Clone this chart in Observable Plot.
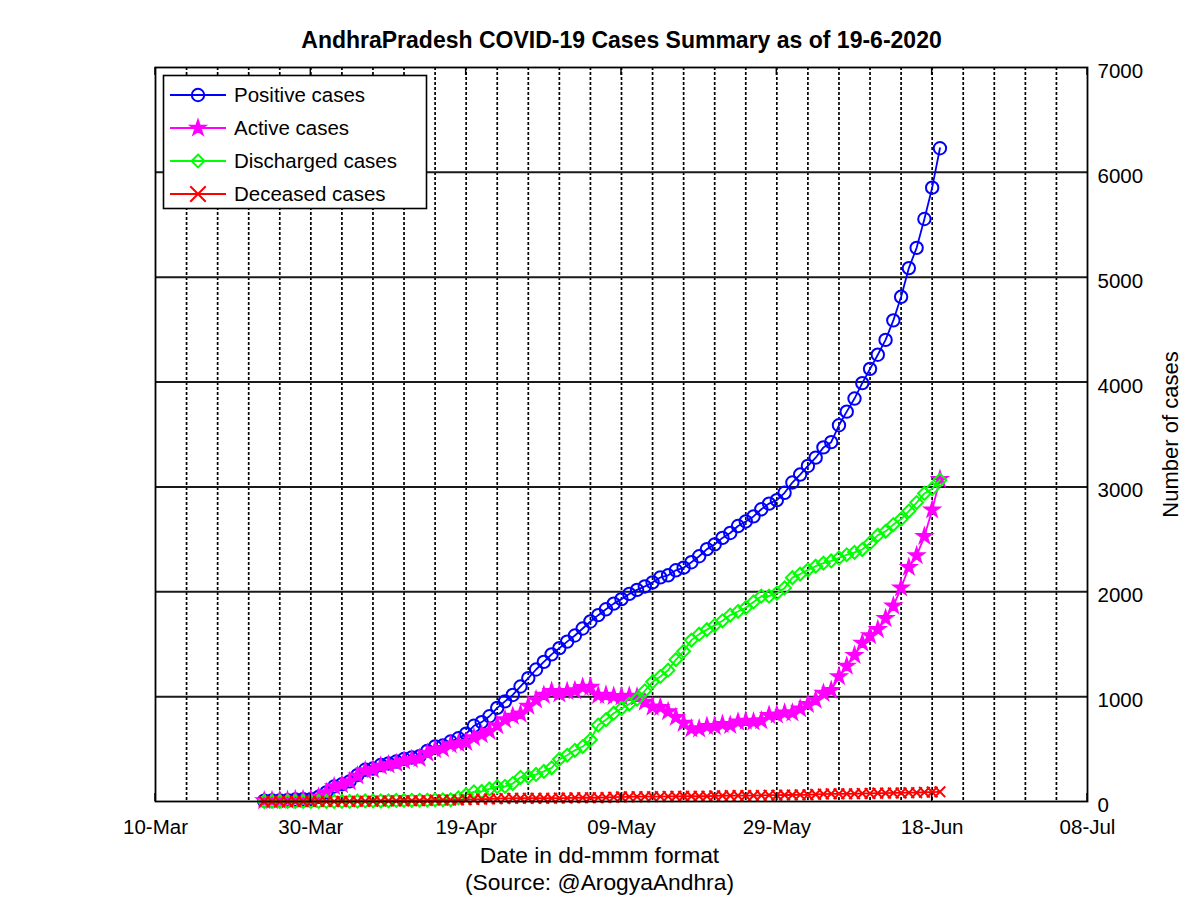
<!DOCTYPE html>
<html><head><meta charset="utf-8">
<script src="https://cdn.jsdelivr.net/npm/d3@7"></script>
<script src="https://cdn.jsdelivr.net/npm/@observablehq/plot@0.6"></script>
<style>html,body{margin:0;padding:0;background:#fff}svg{display:block}</style>
</head><body><div id="chart"></div>
<script>
// ---- data (daily, 24-Mar-2020 .. 19-Jun-2020) ----
const firstDate = "2020-03-24";
const lastDateExclusive = "2020-06-20";
const positive = [8,10,11,13,19,21,23,44,
  87,143,164,192,252,303,314,348,363,381,405,420,432,483,525,534,572,603,647,722,757,813,893,955,1016,1097,1177,1259,1332,1403,
  1463,1525,1583,1650,1717,1777,1833,1887,1930,1980,2018,2051,2090,2137,2157,2205,2230,2282,2339,2407,2452,2514,2561,2627,2671,2719,2787,2841,2874,2944,3042,
  3118,3200,3279,3377,3427,3588,3718,3843,3990,4126,4261,4402,4588,4813,5087,5280,5555,5854,6230];
const active = [8,10,11,12,18,20,22,43,
  86,142,162,190,246,295,305,338,351,365,389,402,413,462,495,504,542,553,565,610,639,669,725,781,814,835,911,970,1014,1051,
  1027,1051,1059,1090,1092,1012,1015,1004,999,1006,997,949,902,898,857,803,747,693,693,718,718,736,727,759,767,760,771,823,827,845,845,
  885,927,967,1033,1060,1192,1292,1394,1510,1583,1641,1746,1865,2038,2233,2345,2529,2781,3073];
const discharged = [0,0,0,1,1,1,1,1,
  1,1,1,1,3,5,6,6,6,10,10,11,12,12,16,16,16,35,65,92,96,120,141,145,171,231,235,258,287,321,
  403,441,488,524,589,729,780,842,887,929,975,1056,1142,1192,1252,1353,1433,1539,1596,1639,1680,1723,1778,1812,1848,1903,1958,1958,1987,2037,2135,
  2169,2209,2244,2273,2294,2323,2353,2376,2403,2466,2540,2576,2641,2693,2770,2851,2938,2983,3065];
const deceased = [0,0,0,0,0,0,0,0,
  0,0,1,1,3,3,3,4,6,6,6,7,7,9,14,14,14,15,17,20,22,24,27,29,31,31,31,31,31,31,
  33,33,36,36,36,36,38,41,44,45,46,46,46,47,48,49,50,50,50,50,54,55,56,56,56,56,58,60,60,62,62,
  64,64,68,71,73,73,73,73,77,77,80,80,82,82,84,84,88,90,92];

const seriesNames = ["Positive cases","Active cases","Discharged cases","Deceased cases"];
const seriesColors = ["#0000ff","#ff00ff","#00ff00","#ff0000"];
const xTickDates = ["2020-03-10","2020-03-30","2020-04-19","2020-05-09","2020-05-29","2020-06-18","2020-07-08"];
const yTicks = [0,1000,2000,3000,4000,5000,6000,7000];
const titleText = "AndhraPradesh COVID-19 Cases Summary as of 19-6-2020";
const xLabel = "Date in dd-mmm format";
const sourceText = "(Source: @ArogyaAndhra)";
const yLabel = "Number of cases";

// ---- build tables ----
const dates = d3.utcDay.range(new Date(firstDate), new Date(lastDateExclusive));
const seriesValues = [positive, active, discharged, deceased];
const tables = seriesValues.map(vals => vals.map((v, i) => ({date: dates[i], value: v})));
const xDomain = [new Date(xTickDates[0]), new Date(xTickDates[xTickDates.length - 1])];
const xTicks = xTickDates.map(d => new Date(d));
const gridDates = d3.utcDay.range(xDomain[0], xDomain[1], 4).slice(1);
const yGrid = yTicks.slice(1, -1);

const symbols = ["circle", "star", "diamond2", "times"];
const radii = [6.2, 4.5, 5.8, 4.9];
const fills = ["none", seriesColors[1], "none", "none"];
const FONT = "'Liberation Sans', Arial, Helvetica, sans-serif";

const dataMarks = [];
tables.forEach((t, k) => {
  dataMarks.push(Plot.line(t, {x: "date", y: "value", stroke: seriesColors[k], strokeWidth: 1.8}));
  dataMarks.push(Plot.dot(t, {x: "date", y: "value", symbol: symbols[k], r: radii[k],
    stroke: seriesColors[k], fill: fills[k], strokeWidth: 2}));
});

const chart = Plot.plot({
  width: 1200, height: 898,
  marginLeft: 155, marginRight: 113, marginTop: 67, marginBottom: 97,
  style: {fontFamily: FONT, fontSize: "20.5px", background: "#fff", color: "#000"},
  x: {type: "utc", domain: xDomain},
  y: {domain: [0, 7000]},
  marks: [
    Plot.ruleX(gridDates, {stroke: "#000", strokeWidth: 1.7, strokeDasharray: "3,2"}),
    Plot.ruleY(yGrid, {stroke: "#1a1a1a", strokeWidth: 2}),
    Plot.axisX({ticks: xTicks, tickFormat: d3.utcFormat("%d-%b"), tickSize: 0, tickPadding: 18, label: null, fontSize: 20.5}),
    Plot.axisY({anchor: "right", ticks: yTicks, tickSize: 0, tickPadding: 10, dy: 4, label: null, tickFormat: d => String(d), fontSize: 20.5}),
    ...dataMarks,
    Plot.frame({stroke: "#000", strokeWidth: 1.8}),
    Plot.text([titleText], {text: d => d, frameAnchor: "top", lineAnchor: "middle", dy: -27, fontSize: 23, fontWeight: "bold"}),
    Plot.text([xLabel], {text: d => d, frameAnchor: "bottom", textAnchor: "middle", lineAnchor: "middle", dx: -22, dy: 54, fontSize: 22.8}),
    Plot.text([sourceText], {text: d => d, frameAnchor: "bottom", textAnchor: "middle", lineAnchor: "middle", dx: -22, dy: 81, fontSize: 22.8}),
    Plot.text([yLabel], {text: d => d, frameAnchor: "right", textAnchor: "middle", lineAnchor: "middle", dx: 83, rotate: -90, fontSize: 22})
  ]
});
document.getElementById("chart").appendChild(chart);

// ---- inward major ticks and legend ----
const svg = d3.select(chart);
const sx = chart.scale("x");
const tg = svg.append("g").attr("stroke", "#000").attr("stroke-width", 1.5);
xTicks.forEach(d => {
  const px = sx.apply(d);
  tg.append("line").attr("x1", px).attr("x2", px).attr("y1", 801).attr("y2", 793);
  tg.append("line").attr("x1", px).attr("x2", px).attr("y1", 67).attr("y2", 75);
});

const lg = svg.append("g");
lg.append("rect").attr("x", 163.5).attr("y", 75.5).attr("width", 263).attr("height", 133)
  .attr("fill", "#fff").attr("stroke", "#000").attr("stroke-width", 1.6);
const d3sym = {circle: d3.symbolCircle, star: d3.symbolStar, diamond2: d3.symbolDiamond2, times: d3.symbolTimes};
seriesNames.forEach((name, k) => {
  const cy = 95 + k * 33;
  lg.append("line").attr("x1", 170).attr("x2", 226).attr("y1", cy).attr("y2", cy)
    .attr("stroke", seriesColors[k]).attr("stroke-width", 1.8);
  const rr = k === 3 ? radii[k] * 1.45 : radii[k];
  lg.append("path").attr("d", d3.symbol(d3sym[symbols[k]], Math.PI * rr * rr)())
    .attr("transform", `translate(198,${cy})`)
    .attr("fill", fills[k]).attr("stroke", seriesColors[k]).attr("stroke-width", 2);
  lg.append("text").attr("x", 234).attr("y", cy).attr("dy", "0.35em")
    .attr("text-anchor", "start")
    .attr("font-family", FONT).attr("font-size", 20.5).attr("fill", "#000").text(name);
});
</script>
</body></html>
